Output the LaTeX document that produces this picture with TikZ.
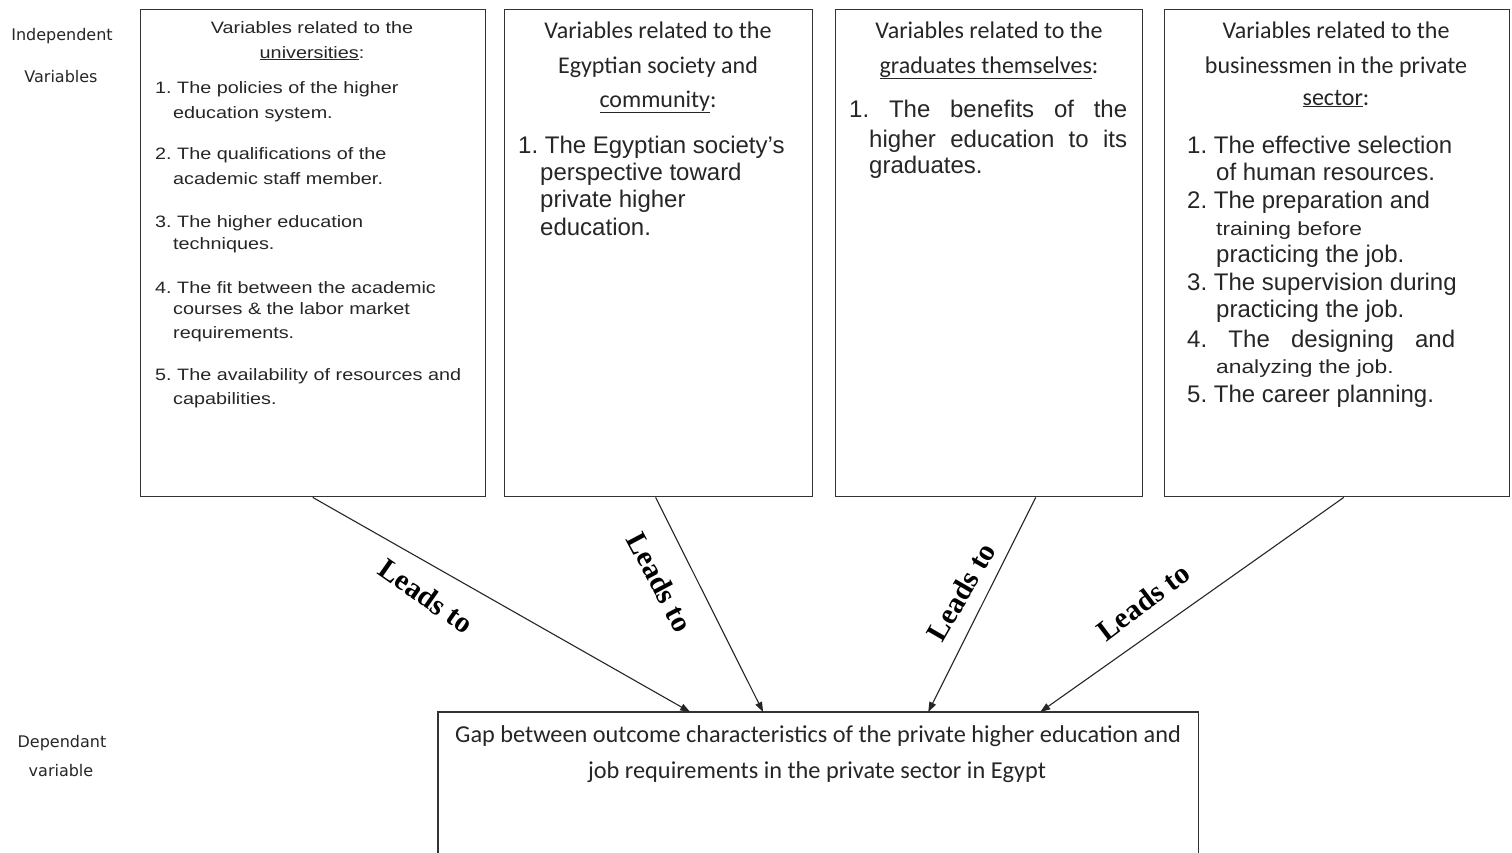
\documentclass[tikz,border=0pt]{standalone}
\usepackage{fontspec}
\setmainfont{Liberation Sans}
\newfontfamily\arw[FakeStretch=1.2]{Liberation Sans}
\newfontfamily\calf{Carlito}
\newfontfamily\dvf{DejaVu Sans}
\newfontfamily\tmsf{Liberation Serif}
\usetikzlibrary{arrows.meta,calc}
\newcommand\fsz[1]{\fontsize{#1}{#1}\selectfont}
\frenchspacing
\begin{document}
\begin{tikzpicture}[x=1pt,y=-1pt,
  frame/.style={draw=black!80,line width=1.4pt,inner sep=0pt,anchor=north west},
  lt/.style={anchor=base west,inner sep=0pt,text=black!85},
  ct/.style={anchor=base,inner sep=0pt,text=black!85},
  fa/.style={font=\arw\fsz{16.5}},
  ti/.style={font=\calf\fsz{24}},
  it/.style={font=\fsz{24}},
  sm/.style={font=\arw\fsz{19}},
  arr/.style={draw=black!85,line width=1.1pt,-{Triangle[length=10pt,width=7pt]}},
  lead/.style={font=\tmsf\bfseries\fsz{29.5},inner sep=0pt},
  side/.style={font=\dvf\fsz{16},anchor=base,inner sep=0pt,text=black!85}]

\fill[white] (0,0) rectangle (1512,852);
\useasboundingbox (0,0) rectangle (1512,852);

% frames
\node[frame,minimum width=345pt,minimum height=487pt] (b1) at (140,9) {};
\node[frame,minimum width=308pt,minimum height=487pt] (b2) at (504,9) {};
\node[frame,minimum width=307pt,minimum height=487pt] (b3) at (835,9) {};
\node[frame,minimum width=345pt,minimum height=487pt] (b4) at (1164,9) {};
\node[inner sep=0pt,anchor=north west,minimum width=760pt,minimum height=142pt] (gap) at (438,712) {};
\draw[draw=black!80,line width=1.4pt] (gap.south west) -- (gap.north west) -- (gap.north east) -- (gap.south east);

% side labels
\node[side] (iv1) at (62,40) {Independent};
\node[side] (iv2) at (61,82) {Variables};
\node[side] (dv1) at (62,747) {Dependant};
\node[side] (dv2) at (61,776) {variable};

% box 1
\node[ct,fa] (b1t1) at (312,33) {Variables related to the};
\node[ct,fa] (b1t2) at (312,58) {\underline{universities}:};
\node[lt,fa] (b1i1a) at (155,93) {1. The policies of the higher};
\node[lt,fa] (b1i1b) at (173,118) {education system.};
\node[lt,fa] (b1i2a) at (155,159) {2. The qualifications of the};
\node[lt,fa] (b1i2b) at (173,184) {academic staff member.};
\node[lt,fa] (b1i3a) at (155,227) {3. The higher education};
\node[lt,fa] (b1i3b) at (173,249) {techniques.};
\node[lt,fa] (b1i4a) at (155,293) {4. The fit between the academic};
\node[lt,fa] (b1i4b) at (173,314) {courses \& the labor market};
\node[lt,fa] (b1i4c) at (173,338) {requirements.};
\node[lt,fa] (b1i5a) at (155,380) {5. The availability of resources and};
\node[lt,fa] (b1i5b) at (173,404) {capabilities.};

% box 2
\node[ct,ti] (b2t1) at (658,38) {Variables related to the};
\node[ct,ti] (b2t2) at (658,73) {Egyptian society and};
\node[ct,ti] (b2t3) at (658,107) {\underline{community}:};
\node[lt,it] (b2i1a) at (518,153) {1. The Egyptian society’s};
\node[lt,it] (b2i1b) at (540,180) {perspective toward};
\node[lt,it] (b2i1c) at (540,207) {private higher};
\node[lt,it] (b2i1d) at (540,235) {education.};

% box 3
\node[ct,ti] (b3t1) at (989,38) {Variables related to the};
\node[ct,ti] (b3t2) at (989,73) {\underline{graduates themselves}:};
\node[lt,it] (b3i1a) at (849,117) {\makebox[278pt][s]{1. The benefits of the}};
\node[lt,it] (b3i1b) at (869,147) {\makebox[258pt][s]{higher education to its}};
\node[lt,it] (b3i1c) at (869,173) {graduates.};

% box 4
\node[ct,ti] (b4t1) at (1336,38) {Variables related to the};
\node[ct,ti] (b4t2) at (1336,73) {businessmen in the private};
\node[ct,ti] (b4t3) at (1336,105) {\underline{sector}:};
\node[lt,it] (b4i1a) at (1187,153) {1. The effective selection};
\node[lt,it] (b4i1b) at (1216,180) {of human resources.};
\node[lt,it] (b4i2a) at (1187,208) {2. The preparation and};
\node[lt,sm] (b4i2b) at (1216,235) {training before};
\node[lt,it] (b4i2c) at (1216,262) {practicing the job.};
\node[lt,it] (b4i3a) at (1187,290) {3. The supervision during};
\node[lt,it] (b4i3b) at (1216,317) {practicing the job.};
\node[lt,it] (b4i4a) at (1187,347) {\makebox[268pt][s]{4. The designing and}};
\node[lt,sm] (b4i4b) at (1216,373) {analyzing the job.};
\node[lt,it] (b4i5a) at (1187,402) {5. The career planning.};

% dependent text
\node[ct,font=\calf\fsz{24.3}] (g1) at (818,742) {Gap between outcome characteristics of the private higher education and};
\node[ct,font=\calf\fsz{24.3}] (g2) at (817,778) {job requirements in the private sector in Egypt};

% arrows
\draw[arr] ($(b1.south west)!0.4986!(b1.south east)$) -- ($(gap.north west)!0.3316!(gap.north east)$);
\draw[arr] ($(b2.south west)!0.49!(b2.south east)$) -- ($(gap.north west)!0.4276!(gap.north east)$);
\draw[arr] ($(b3.south west)!0.651!(b3.south east)$) -- ($(gap.north west)!0.6447!(gap.north east)$);
\draw[arr] ($(b4.south west)!0.519!(b4.south east)$) -- ($(gap.north west)!0.792!(gap.north east)$);

% labels
\node[lead,rotate=-35] (l1) at (426,596) {Leads to};
\node[lead,rotate=-62] (l2) at (660,582) {Leads to};
\node[lead,rotate=60] (l3) at (961,592) {Leads to};
\node[lead,rotate=37] (l4) at (1143,602) {Leads to};
\end{tikzpicture}
\end{document}
